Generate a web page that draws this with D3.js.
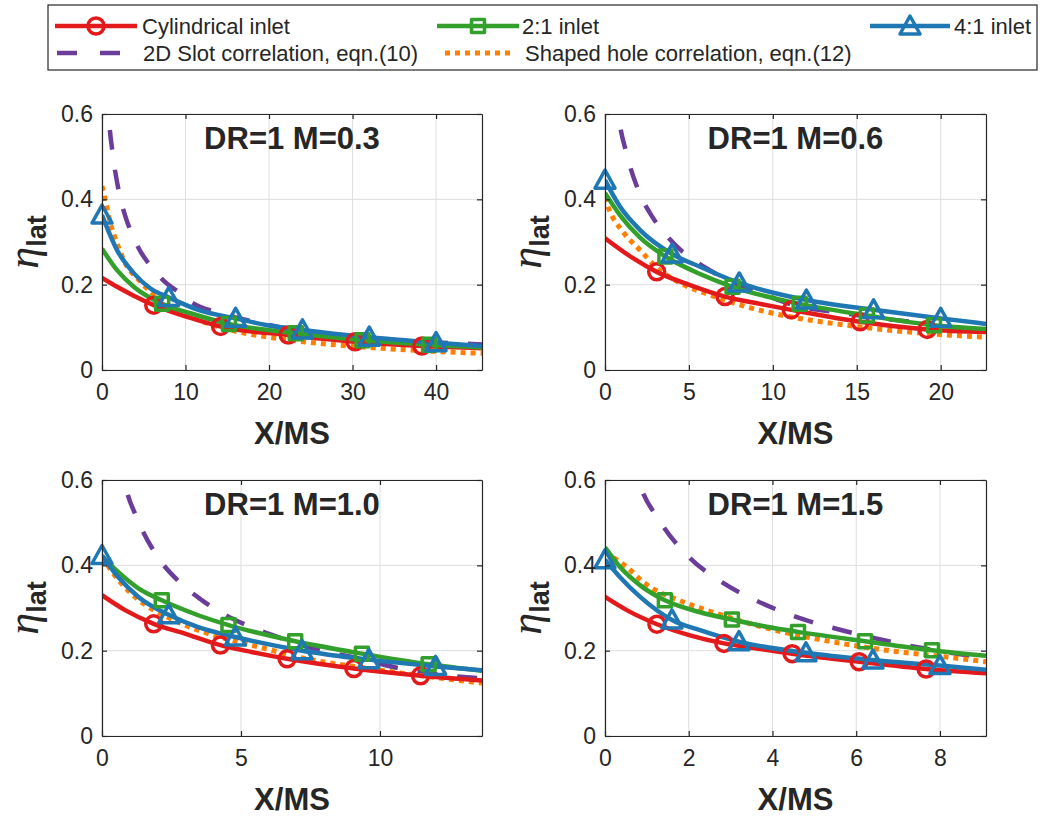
<!DOCTYPE html>
<html>
<head>
<meta charset="utf-8">
<script src="https://cdn.jsdelivr.net/npm/d3@7"></script>
<style>
body { margin: 0; background: #fff; }
text { font-family: "Liberation Sans", Arial, Helvetica, sans-serif; fill: #262626; }
</style>
</head>
<body>
<svg width="1042" height="818"></svg>
<script>
// ---- data (x = X/MS, y = eta_lat) ----
var titles = ["DR=1 M=0.3", "DR=1 M=0.6", "DR=1 M=1.0", "DR=1 M=1.5"]
var xMax = [45.5, 22.7, 13.67, 9.1]
var xTicks = [[0, 10, 20, 30, 40], [0, 5, 10, 15, 20], [0, 5, 10], [0, 2, 4, 6, 8]]
var yTicks = [0, 0.2, 0.4, 0.6]

// 2D slot correlation depends on X/MS only: same curve in every panel
var slot = [[0.45,0.75],[0.8,0.60],[1.3,0.505],[2.0,0.42],[2.8,0.36],[3.6,0.318],[4.6,0.278],[5.5,0.252],[6.5,0.228],[7.4,0.209],
    [8.4,0.193],[9.1,0.184],[10.6,0.160],[14.6,0.131],[19.4,0.108],[25.7,0.087],[32.5,0.074],[38.5,0.066],[45.5,0.060]]

// M = 0.3
var cyl03 = [[0,0.216],[1.8,0.195],[3.8,0.174],[6.2,0.152],[10.6,0.122],[14.2,0.102],[22.3,0.082],[30.3,0.066],[38.3,0.056],[45.5,0.051]]
var two03 = [[0,0.284],[1.8,0.234],[3.8,0.195],[7.2,0.155],[10.6,0.133],[15.2,0.108],[23.2,0.086],[31.2,0.070],[39.2,0.059],[45.5,0.053]]
var four03 = [[0,0.363],[1.8,0.281],[3.8,0.227],[5.8,0.191],[8,0.170],[11.8,0.139],[16,0.121],[19.8,0.105],[24,0.094],[32,0.077],[40,0.064],[45.5,0.056]]
var shaped03 = [[0,0.431],[0.4,0.398],[1.0,0.344],[1.8,0.297],[2.6,0.258],[4.6,0.207],[7.0,0.164],[10.6,0.125],[15.4,0.094],[22.6,0.070],[30.5,0.055],[38.5,0.045],[45.5,0.039]]
var cyl03Mk = [6.2, 14.2, 22.3, 30.3, 38.3]
var two03Mk = [7.2, 15.2, 23.2, 31.2, 39.2]
var four03Mk = [0, 8, 16, 24, 32, 40]

// M = 0.6
var cyl06 = [[0,0.309],[1.67,0.262],[3.08,0.230],[5.07,0.199],[7.15,0.172],[9.24,0.155],[11.1,0.141],[15.2,0.113],[19.2,0.095],[22.7,0.089]]
var two06 = [[0,0.415],[0.89,0.363],[2.09,0.310],[3.6,0.266],[5.66,0.225],[7.6,0.195],[11.6,0.155],[15.6,0.128],[19.6,0.105],[22.7,0.096]]
var four06 = [[0,0.445],[0.89,0.383],[2.09,0.328],[4,0.272],[5.66,0.242],[8,0.204],[12,0.164],[16,0.141],[20,0.121],[22.7,0.108]]
var shaped06 = [[0,0.405],[0.18,0.383],[1.07,0.324],[2.09,0.281],[3.08,0.240],[4.47,0.204],[6.26,0.176],[8.44,0.148],[10.0,0.133],[15,0.102],[19,0.086],[22.7,0.077]]
var cyl06Mk = [3.08, 7.15, 11.1, 15.2, 19.2]
var two06Mk = [3.6, 7.6, 11.6, 15.6, 19.6]
var four06Mk = [0, 4, 8, 12, 16, 20]

// M = 1.0
var cyl10 = [[0,0.330],[0.83,0.295],[1.86,0.263],[2.98,0.240],[4.26,0.213],[5.38,0.197],[6.66,0.181],[9.06,0.158],[11.46,0.141],[13.67,0.130]]
var two10 = [[0,0.422],[0.59,0.384],[1.31,0.346],[2.15,0.318],[3.46,0.283],[4.55,0.260],[6.95,0.222],[9.35,0.193],[11.75,0.168],[13.67,0.153]]
var four10 = [[0,0.423],[0.59,0.372],[1.31,0.326],[2.4,0.284],[3.46,0.255],[4.8,0.232],[7.2,0.200],[9.6,0.179],[12,0.163],[13.67,0.154]]
var shaped10 = [[0,0.420],[0.6,0.365],[1.3,0.320],[2.4,0.277],[3.46,0.248],[4.8,0.222],[5.86,0.205],[7.2,0.183],[9.6,0.158],[12,0.137],[13.67,0.124]]
var cyl10Mk = [1.86, 4.26, 6.66, 9.06, 11.46]
var two10Mk = [2.15, 4.55, 6.95, 9.35, 11.75]
var four10Mk = [0, 2.4, 4.8, 7.2, 9.6, 12]

// M = 1.5
var cyl15 = [[0,0.326],[0.52,0.295],[1.24,0.262],[2.03,0.236],[2.84,0.217],[3.7,0.204],[4.47,0.193],[6.07,0.174],[7.67,0.157],[9.1,0.147]]
var two15 = [[0,0.442],[0.36,0.396],[0.84,0.353],[1.43,0.318],[2.27,0.290],[3.03,0.273],[3.86,0.256],[4.61,0.244],[6.21,0.222],[7.81,0.201],[9.1,0.188]]
var four15 = [[0,0.413],[0.36,0.372],[0.84,0.326],[1.6,0.272],[2.27,0.248],[3.2,0.221],[4.8,0.195],[6.4,0.178],[8.0,0.165],[9.1,0.155]]
var shaped15 = [[0,0.430],[0.52,0.396],[0.91,0.361],[1.87,0.314],[2.58,0.290],[3.62,0.259],[4.42,0.240],[5.14,0.226],[6.57,0.203],[8.16,0.185],[9.1,0.174]]
var cyl15Mk = [1.24, 2.84, 4.47, 6.07, 7.67]
var two15Mk = [1.43, 3.03, 4.61, 6.21, 7.81]
var four15Mk = [0, 1.6, 3.2, 4.8, 6.4, 8.0]

var legendLabels = ["Cylindrical inlet", "2:1 inlet", "4:1 inlet", "2D Slot correlation, eqn.(10)", "Shaped hole correlation, eqn.(12)"]

// ---- styles ----
var red = '#e31a1c', green = '#33a02c', blue = '#1f78b4', purple = '#6a3d9a', orange = '#ff7f00'
var lineW = 4.5

var svg = d3.select('svg')

var boxes = [
    {x: 102, y: 114, w: 380, h: 256},
    {x: 605, y: 114, w: 381, h: 256},
    {x: 102, y: 480, w: 380, h: 256},
    {x: 605, y: 480, w: 381, h: 256}
]

var panels = [
    {cyl: cyl03, two: two03, four: four03, shaped: shaped03, cylMk: cyl03Mk, twoMk: two03Mk, fourMk: four03Mk},
    {cyl: cyl06, two: two06, four: four06, shaped: shaped06, cylMk: cyl06Mk, twoMk: two06Mk, fourMk: four06Mk},
    {cyl: cyl10, two: two10, four: four10, shaped: shaped10, cylMk: cyl10Mk, twoMk: two10Mk, fourMk: four10Mk},
    {cyl: cyl15, two: two15, four: four15, shaped: shaped15, cylMk: cyl15Mk, twoMk: two15Mk, fourMk: four15Mk}
]

var triPath = 'M0,-10L10,8L-10,8Z'
var sqPath = 'M-6.5,-6.5H6.5V6.5H-6.5Z'

function marker(sel, kind, color) {
    if (kind === 'circle') {
        sel.append('circle').attr('r', 8)
    } else {
        sel.append('path').attr('d', kind === 'square' ? sqPath : triPath)
    }
    sel.selectAll('circle,path')
        .attr('fill', 'none')
        .attr('stroke', color)
        .attr('stroke-width', 3.5)
        .attr('stroke-linejoin', 'round')
}

panels.forEach(function(p, i) {
    var b = boxes[i]
    var g = svg.append('g').attr('transform', 'translate(' + b.x + ',' + b.y + ')')
    var x = d3.scaleLinear().domain([0, xMax[i]]).range([0, b.w])
    var y = d3.scaleLinear().domain([0, 0.6]).range([b.h, 0])

    // grid
    g.append('g').selectAll('line').data(xTicks[i]).enter().append('line')
        .attr('x1', d=>x(d)).attr('x2', d=>x(d)).attr('y1', 0).attr('y2', b.h)
        .attr('stroke', '#dedede').attr('stroke-width', 1)
    g.append('g').selectAll('line').data(yTicks).enter().append('line')
        .attr('y1', d=>y(d)).attr('y2', d=>y(d)).attr('x1', 0).attr('x2', b.w)
        .attr('stroke', '#dedede').attr('stroke-width', 1)

    // curves
    var clipId = 'clip' + i
    svg.append('clipPath').attr('id', clipId).append('rect')
        .attr('width', b.w).attr('height', b.h)
    var plot = g.append('g').attr('clip-path', 'url(#' + clipId + ')')
    var line = d3.line().x(d=>x(d[0])).y(d=>y(d[1])).curve(d3.curveMonotoneX)

    plot.append('path').datum(slot.filter(d=>d[0] <= xMax[i] + 1))
        .attr('d', line).attr('fill', 'none').attr('stroke', purple)
        .attr('stroke-width', lineW).attr('stroke-dasharray', '20,20')
    plot.append('path').datum(p.shaped)
        .attr('d', line).attr('fill', 'none').attr('stroke', orange)
        .attr('stroke-width', 5).attr('stroke-dasharray', '5,5')

    var sets = [
        {data: p.cyl, mk: p.cylMk, color: red, kind: 'circle'},
        {data: p.two, mk: p.twoMk, color: green, kind: 'square'},
        {data: p.four, mk: p.fourMk, color: blue, kind: 'triangle'}
    ]
    sets.forEach(function(s) {
        plot.append('path').datum(s.data)
            .attr('d', line).attr('fill', 'none').attr('stroke', s.color)
            .attr('stroke-width', lineW).attr('stroke-linejoin', 'round')
        var pts = s.data.filter(d=>s.mk.indexOf(d[0]) >= 0)
        g.append('g').selectAll('g').data(pts).enter().append('g')
            .attr('transform', d=>'translate(' + x(d[0]) + ',' + y(d[1]) + ')')
            .call(marker, s.kind, s.color)
    })

    // axes (ticks inward on all four sides)
    var fmt = d=>String(d)
    function styleAxis(a) {
        a.select('.domain').attr('stroke', '#262626').attr('stroke-width', 1.2)
        a.selectAll('.tick line').attr('stroke', '#262626').attr('stroke-width', 1.2)
        a.selectAll('text').attr('font-size', 23).attr('fill', '#262626')
            .attr('font-family', '"Liberation Sans", Arial, sans-serif')
    }
    g.append('g').attr('transform', 'translate(0,' + b.h + ')')
        .call(d3.axisBottom(x).tickValues(xTicks[i]).tickFormat(fmt).tickSize(-5).tickSizeOuter(0).tickPadding(14))
        .call(styleAxis)
    g.append('g')
        .call(d3.axisTop(x).tickValues(xTicks[i]).tickFormat('').tickSize(-5).tickSizeOuter(0))
        .call(styleAxis)
    g.append('g')
        .call(d3.axisLeft(y).tickValues(yTicks).tickFormat(fmt).tickSize(-5).tickSizeOuter(0).tickPadding(9))
        .call(styleAxis)
    g.append('g').attr('transform', 'translate(' + b.w + ',0)')
        .call(d3.axisRight(y).tickValues(yTicks).tickFormat('').tickSize(-5).tickSizeOuter(0))
        .call(styleAxis)

    // title inside the axes
    g.append('text').attr('x', b.w / 2).attr('y', 35)
        .attr('text-anchor', 'middle').attr('font-size', 31).attr('font-weight', 'bold')
        .attr('fill', '#000').text(titles[i])

    // axis labels
    g.append('text').attr('x', b.w / 2).attr('y', b.h + 74)
        .attr('text-anchor', 'middle').attr('font-size', 31).attr('font-weight', 'bold')
        .attr('fill', '#262626').text('X/MS')

    var yl = g.append('text')
        .attr('transform', 'translate(-64,' + (b.h / 2) + ') rotate(-90)')
        .attr('text-anchor', 'middle')
    yl.append('tspan').attr('font-family', '"Liberation Serif", "DejaVu Serif", serif')
        .attr('font-style', 'italic').attr('font-size', 44).text('η')
    yl.append('tspan').attr('font-weight', 'bold').attr('font-size', 27).attr('dy', 8).text('lat')
})

// ---- legend ----
var leg = svg.append('g')
leg.append('rect').attr('x', 48).attr('y', 5).attr('width', 989).attr('height', 65)
    .attr('fill', '#fff').attr('stroke', '#262626').attr('stroke-width', 1.2)

var legItems = [
    {x0: 55, x1: 137, y: 26, tx: 142, color: red, kind: 'circle'},
    {x0: 437, x1: 519, y: 26, tx: 522, color: green, kind: 'square'},
    {x0: 870, x1: 950, y: 26, tx: 954, color: blue, kind: 'triangle'},
    {x0: 57, x1: 137, y: 53, tx: 143, color: purple, dash: '20,23'},
    {x0: 445, x1: 515, y: 53, tx: 525, color: orange, dash: '5,5', wide: true}
]
legItems.forEach(function(d, i) {
    leg.append('line').attr('x1', d.x0).attr('x2', d.x1).attr('y1', d.y).attr('y2', d.y)
        .attr('stroke', d.color).attr('stroke-width', d.wide ? 5 : lineW)
        .attr('stroke-dasharray', d.dash || null)
    if (d.kind) {
        leg.append('g').attr('transform', 'translate(' + ((d.x0 + d.x1) / 2) + ',' + d.y + ')')
            .call(marker, d.kind, d.color)
    }
    leg.append('text').attr('x', d.tx).attr('y', d.y + 8)
        .attr('font-size', 22).attr('fill', '#000').text(legendLabels[i])
})
</script>
</body>
</html>
